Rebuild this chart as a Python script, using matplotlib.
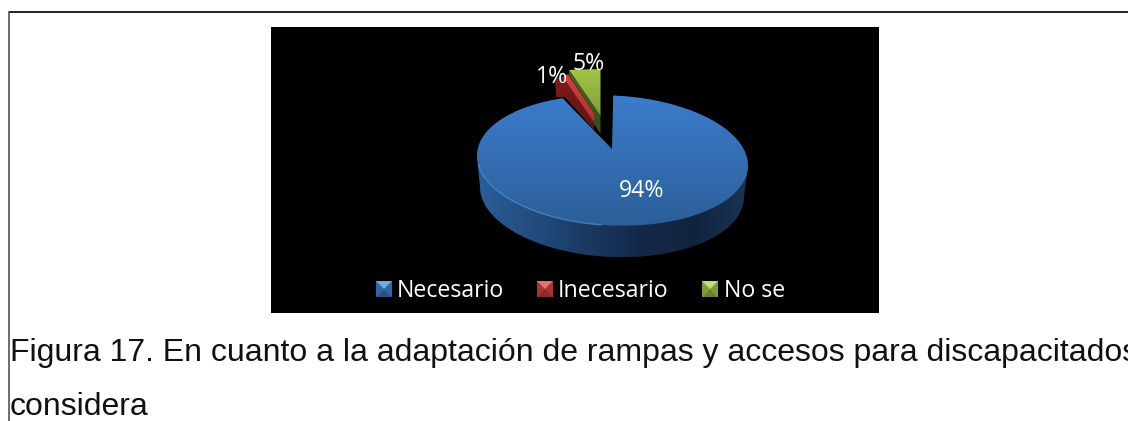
import numpy as np
import matplotlib
matplotlib.use("Agg")
import matplotlib.pyplot as plt
from matplotlib.patches import Polygon, Rectangle
from matplotlib.colors import LinearSegmentedColormap as LSC

categories = ["Necesario", "Inecesario", "No se"]
values = [94, 1, 5]
labels = ["94%", "1%", "5%"]
caption = ["Figura 17. En cuanto a la adaptación de rampas y accesos para discapacitados",
           "considera"]

W, H = 1128, 421
fig = plt.figure(figsize=(W/100, H/100), dpi=100, facecolor="white")
ax = fig.add_axes([0, 0, 1, 1])
ax.set_xlim(0, W); ax.set_ylim(H, 0); ax.axis("off")

# page frame
ax.plot([W, 8.5], [11.8, 11.8], color="#111111", lw=1.3, zorder=1, solid_capstyle="butt")
ax.plot([8.5, 8.5], [H, 11.2], color="#444444", lw=1.1, zorder=1, solid_capstyle="butt")
# chart background
ax.add_patch(Rectangle((271, 27), 608, 286, fc="black", ec="none", zorder=1))

def fill(pts, colors, horizontal=False, z=3):
    pts = np.asarray(pts)
    x0, x1 = pts[:, 0].min(), pts[:, 0].max()
    y0, y1 = pts[:, 1].min(), pts[:, 1].max()
    g = np.linspace(0, 1, 256)
    arr = g[None, :] if horizontal else g[:, None]
    cmap = LSC.from_list("g", colors)
    im = ax.imshow(arr, cmap=cmap, extent=(x0, x1, y1, y0), aspect="auto", zorder=z, vmin=0, vmax=1)
    p = Polygon(pts, closed=True, transform=ax.transData, fc="none", ec="none")
    ax.add_patch(p)
    im.set_clip_path(p)
    ax.set_xlim(0, W); ax.set_ylim(H, 0)

cx, cy, a, b, shear = 612.5, 160.5, 135.5, 65, 5
total = sum(values)
sweep_blue = 360 * values[0] / total

def arc(t0, t1, n=200, cx=cx, cy=cy, a=a, b=b, s=shear):
    t = np.radians(np.linspace(t0, t1, n))
    return np.c_[cx + a*np.sin(t), cy - b*np.cos(t) + s*np.sin(t)]

# blue wall
lower = arc(90, 270, 200, 612, 192, 132, 65)
wall = np.vstack([[arc(270, 270, 1)[0], arc(90, 90, 1)[0]], lower])
fill(wall, ["#2b5f9c", "#234d80", "#1b3a62", "#14294a", "#11233c", "#1a3556"], horizontal=True, z=3)

# blue top face
apex = (612, 149)
blue_top = np.vstack([[apex], arc(0.3, sweep_blue, 400)])
fill(blue_top, ["#3c7ccd", "#2c5f98"], z=5)
rim = arc(185, 262, 80)
ax.plot(rim[:, 0], rim[:, 1], color="#4c88cf", lw=1.0, alpha=0.8, zorder=6)

# red slice (behind the blue, exploded up-left)
red_dark = [(555, 78), (556, 97), (565, 97), (594, 130), (594, 120), (563, 77)]
fill(red_dark, ["#7e1c1a", "#5e1513"], z=4)
red_top = [(563, 77), (568, 74), (594, 113), (594, 122)]
fill(red_top, ["#cc423e", "#b03430"], z=4.5)

# green slice
green_side = [(568.5, 70), (600.5, 115), (600.5, 134), (594, 124), (594, 113), (568.5, 74)]
fill(green_side, ["#4c6a22", "#37491a"], z=4.6)
green_top = [(569, 70), (600.5, 69), (600.5, 115.5)]
fill(green_top, ["#a3c644", "#80a039"], z=4.7)

# data labels
lfont = ["Open Sans", "DejaVu Sans"]
for s, (x, y) in zip(labels, [(619, 197), (536, 83), (573, 70)]):
    ax.text(x, y, s, color="white", fontsize=16.7, family=lfont, ha="left", va="baseline", zorder=8)

# legend
def bevel(x, y, s, base, light, dark):
    c = (x+s/2, y+s/2)
    ax.add_patch(Rectangle((x, y), s, s, fc=base, ec="none", zorder=6))
    ax.add_patch(Polygon([(x, y), (x+s, y), c], fc=light, ec="none", zorder=7))
    ax.add_patch(Polygon([(x+1, y+s), (x+s-1, y+s), c], fc=dark, ec="none", zorder=7))

lstyle = [("#2f66a8", "#6aaee8", "#265488"),
          ("#a83431", "#e27370", "#8c2a28"),
          ("#7f9b3a", "#c3e070", "#6a8230")]
for name, (bx, tx), st in zip(categories, [(376, 397), (537, 558), (702, 724)], lstyle):
    bevel(bx, 281, 16, *st)
    ax.text(tx, 297, name, color="white", fontsize=16.7, family=lfont, ha="left", va="baseline", zorder=8)

# caption
cf = ["Liberation Sans", "DejaVu Sans"]
ax.text(9.5, 361, caption[0], color="#111111", fontsize=23, family=cf, ha="left", va="baseline", zorder=8, clip_on=True)
ax.text(9.5, 415, caption[1], color="#111111", fontsize=23, family=cf, ha="left", va="baseline", zorder=8, clip_on=True)

fig.savefig("out.png", dpi=100, facecolor="white")
